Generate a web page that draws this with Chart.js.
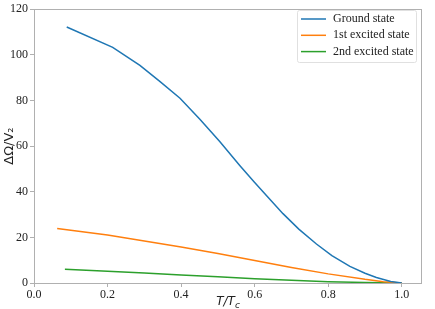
<!DOCTYPE html>
<html>
<head>
<meta charset="utf-8">
<script src="https://cdn.jsdelivr.net/npm/chart.js@4/dist/chart.umd.min.js"></script>
<style>
html,body{margin:0;padding:0;background:#fff;}
#wrap{position:relative;width:435px;height:309px;}
</style>
</head>
<body>
<div id="wrap"><canvas id="c" width="435" height="309"></canvas></div>
<script>
const seriesLabels = ["Ground state", "1st excited state", "2nd excited state"];
const groundX = [0.089, 0.214, 0.288, 0.342, 0.397, 0.451, 0.505, 0.56, 0.6, 0.64, 0.677, 0.72, 0.768, 0.81, 0.859, 0.9, 0.931, 0.97, 1.0];
const groundY = [112.2, 103.3, 95.4, 88.4, 81.0, 71.8, 62.0, 51.4, 44.0, 36.9, 30.4, 23.6, 17.1, 12.0, 7.3, 4.3, 2.4, 0.7, 0];
const firstX = [0.063, 0.2, 0.3, 0.4, 0.5, 0.6, 0.7, 0.8, 0.9, 0.95, 1.0];
const firstY = [23.9, 21.0, 18.4, 15.8, 12.9, 9.9, 6.8, 4.0, 1.6, 0.6, 0];
const secondX = [0.084, 0.2, 0.3, 0.4, 0.5, 0.6, 0.7, 0.8, 0.9, 1.0];
const secondY = [6.0, 5.2, 4.4, 3.5, 2.7, 1.9, 1.2, 0.6, 0.2, 0];
const xTicks = [0.0, 0.2, 0.4, 0.6, 0.8, 1.0];
const yTicks = [0, 20, 40, 60, 80, 100, 120];
const colors = ["#1f77b4", "#ff7f0e", "#2ca02c"];

function pts(xs, ys){ return xs.map((x,i)=>({x:x, y:ys[i]})); }

const serif = "'Liberation Serif', 'Times New Roman', serif";
const sans = "'DejaVu Sans', sans-serif";

const framePlugin = {
  id: 'frame',
  afterDraw(chart){
    const ctx = chart.ctx, a = chart.chartArea;
    ctx.save();
    ctx.strokeStyle = '#b0b0b0';
    ctx.lineWidth = 1;
    ctx.strokeRect(Math.round(a.left)+0.5, Math.round(a.top)+0.5, Math.round(a.right-a.left)-1, Math.round(a.bottom-a.top));
    // legend
    const lx = 297, ly = 10, lw = 119, lh = 52;
    ctx.fillStyle = 'rgba(255,255,255,0.8)';
    ctx.strokeStyle = '#e0e0e0';
    ctx.beginPath();
    if (ctx.roundRect) ctx.roundRect(lx+0.5, ly+0.5, lw, lh, 2); else ctx.rect(lx+0.5, ly+0.5, lw, lh);
    ctx.fill(); ctx.stroke();
    ctx.font = '12px ' + serif;
    ctx.textBaseline = 'middle';
    ctx.textAlign = 'left';
    chart.data.datasets.forEach((ds, i) => {
      const y = ly + 9 + i*16.3;
      ctx.strokeStyle = ds.borderColor;
      ctx.lineWidth = 1.5;
      ctx.beginPath(); ctx.moveTo(lx+4, y); ctx.lineTo(lx+29, y); ctx.stroke();
      ctx.fillStyle = '#222';
      ctx.fillText(ds.label, lx+36, y);
    });
    // x axis title T/T_c
    ctx.fillStyle = '#222';
    ctx.font = 'italic 12px ' + sans;
    ctx.textBaseline = 'alphabetic';
    const main = 'T/T';
    const wMain = ctx.measureText(main).width;
    ctx.font = 'italic 9px ' + sans;
    const wSub = ctx.measureText('c').width;
    const cx = (a.left + a.right)/2;
    const x0 = cx - (wMain + wSub)/2;
    ctx.font = 'italic 12px ' + sans;
    ctx.fillText(main, x0, 305);
    ctx.font = 'italic 9px ' + sans;
    ctx.fillText('c', x0 + wMain, 308);
    // y axis title
    ctx.save();
    ctx.translate(13, (a.top + a.bottom)/2);
    ctx.rotate(-Math.PI/2);
    ctx.textAlign = 'center';
    ctx.font = '13px ' + sans;
    ctx.fillText('ΔΩ/V₂', 0, 0);
    ctx.restore();
    ctx.restore();
  }
};

new Chart(document.getElementById('c'), {
  type: 'line',
  data: {
    datasets: [
      {label: seriesLabels[0], data: pts(groundX, groundY), borderColor: colors[0]},
      {label: seriesLabels[1], data: pts(firstX, firstY), borderColor: colors[1]},
      {label: seriesLabels[2], data: pts(secondX, secondY), borderColor: colors[2]}
    ].map(d => Object.assign(d, {borderWidth: 1.5, pointRadius: 0, tension: 0, fill: false}))
  },
  options: {
    responsive: false,
    animation: false,
    layout: {padding: {top: 4, right: 13, left: 0, bottom: 0}},
    plugins: {legend: {display: false}, tooltip: {enabled: false}},
    scales: {
      x: {
        type: 'linear', min: 0, max: 1.055,
        afterBuildTicks: s => { s.ticks = xTicks.map(v => ({value: v})); },
        afterFit: s => { s.height = 26; },
        grid: {display: true, drawOnChartArea: false, drawTicks: true, tickLength: 4, color: '#b0b0b0'},
        border: {display: false},
        ticks: {color: '#222', font: {family: serif, size: 12}, padding: 1, maxRotation: 0, callback: v => Number(v).toFixed(1)}
      },
      y: {
        type: 'linear', min: 0, max: 120,
        afterBuildTicks: s => { s.ticks = yTicks.map(v => ({value: v})); },
        afterFit: s => { s.width = 34; },
        grid: {display: true, drawOnChartArea: false, drawTicks: true, tickLength: 4, color: '#b0b0b0'},
        border: {display: false},
        ticks: {color: '#222', font: {family: serif, size: 12}, padding: 2, callback: v => String(v)}
      }
    }
  },
  plugins: [framePlugin]
});
</script>
</body>
</html>
